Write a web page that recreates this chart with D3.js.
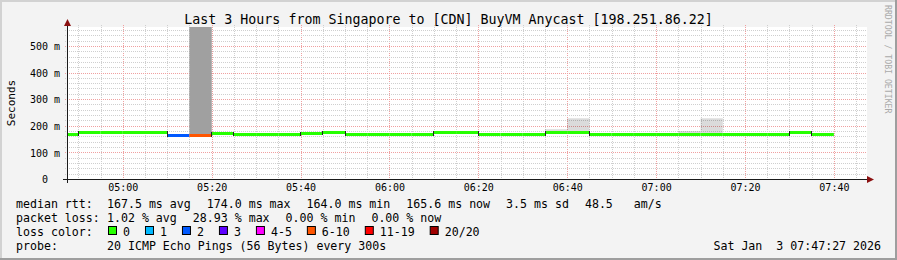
<!DOCTYPE html>
<html>
<head>
<meta charset="utf-8">
<script src="https://cdn.jsdelivr.net/npm/d3@7"></script>
<style>
    html, body { margin: 0; padding: 0; background: #f3f3f3; }
    svg { display: block; }
    text { font-family: "DejaVu Sans Mono", monospace; white-space: pre; }
</style>
</head>
<body>
<svg id="chart" width="897" height="260"></svg>
<script>
// ---- chart data ----
const title = 'Last 3 Hours from Singapore to [CDN] BuyVM Anycast [198.251.86.22]';
const rangeStart = '2026-01-03T04:47:27Z';
const rangeEnd = '2026-01-03T07:47:27Z';
const firstStep = '2026-01-03T04:45:00Z';
const stepSeconds = 300;

// median rtt per 5 minute step (ms), from 04:45 to 07:35
const medianMs = [
    169.0, 174.0, 173.8, 173.6, 173.9, 164.0, 165.2, 169.3, 166.1, 166.0,
    165.8, 169.1, 173.5, 166.2, 165.9, 166.0, 166.3, 173.4, 173.2, 166.4,
    166.0, 165.9, 173.6, 173.1, 166.3, 166.1, 165.8, 166.2, 166.0, 166.4,
    165.9, 166.1, 166.0, 173.3, 165.6
];
// lost pings out of 20 per step
const lossCount = [
    0, 0, 0, 0, 0, 2, 6, 0, 0, 0,
    0, 0, 0, 0, 0, 0, 0, 0, 0, 0,
    0, 0, 0, 0, 0, 0, 0, 0, 0, 0,
    0, 0, 0, 0, 0
];
// highest ping of the step (light smoke), null = hidden under the line
const smokeMaxMs = [
    null, null, null, null, null, null, 600, null, null, null,
    null, null, null, null, null, null, null, null, null, null,
    null, null, 187, 228, null, null, null, null, 180, 228,
    null, null, null, null, null
];
// dense part of the smoke (dark band)
const smokeDenseMs = [
    null, null, null, null, null, null, 600, null, null, null,
    null, null, null, null, null, null, null, null, null, null,
    null, null, null, null, null, null, null, null, null, null,
    null, null, null, null, null
];

const yMax = 571;
const yTicks = [0, 100, 200, 300, 400, 500];

const lossLabels = ['0', '1', '2', '3', '4-5', '6-10', '11-19', '20/20'];
const lossLimits = [0, 1, 2, 3, 5, 10, 19, 20];
const lossColors = ['#26ff00', '#00b8ff', '#0059ff', '#5e00ff', '#ff00ff', '#ff5500', '#ff0000', '#a00000'];

const rttStats = ['167.5 ms avg', '174.0 ms max', '164.0 ms min', '165.6 ms now', '3.5 ms sd', '48.5   am/s'];
const lossStats = ['1.02 % avg', '28.93 % max', '0.00 % min', '0.00 % now'];
const probeText = '20 ICMP Echo Pings (56 Bytes) every 300s';
const stamp = 'Sat Jan  3 07:47:27 2026';

// ---- layout ----
const W = 897, H = 260;
const pLeft = 67, pRight = 867, pTop = 27, pBottom = 179;

const svg = d3.select('#chart');

// background + 3d frame
svg.append('rect').attr('width', W).attr('height', H).attr('fill', '#f3f3f3');
svg.append('rect').attr('x', 0).attr('y', 0).attr('width', W).attr('height', 2).attr('fill', '#d2d2d2');
svg.append('rect').attr('x', 0).attr('y', 0).attr('width', 2).attr('height', H).attr('fill', '#d2d2d2');
svg.append('rect').attr('x', 0).attr('y', H - 2).attr('width', W).attr('height', 2).attr('fill', '#9e9e9e');
svg.append('rect').attr('x', W - 2).attr('y', 0).attr('width', 2).attr('height', H).attr('fill', '#9e9e9e');

// canvas
svg.append('rect')
    .attr('x', pLeft).attr('y', pTop)
    .attr('width', pRight - pLeft).attr('height', pBottom - pTop)
    .attr('fill', '#ffffff');

const x = d3.scaleUtc().domain([new Date(rangeStart), new Date(rangeEnd)]).range([pLeft, pRight]);
const y = d3.scaleLinear().domain([0, yMax]).range([pBottom, pTop]);

const crisp = v => Math.round(v) + 0.5;

// grid
const grid = svg.append('g');
const minorTimes = x.ticks(d3.utcMinute.every(5));
minorTimes.forEach(t => {
    const major = t.getUTCMinutes() % 20 === 0;
    grid.append('line')
        .attr('x1', crisp(x(t))).attr('x2', crisp(x(t)))
        .attr('y1', pTop - 2).attr('y2', pBottom + 2)
        .attr('stroke', major ? '#f0a0a0' : '#cfcfcf')
        .attr('stroke-dasharray', '1,1');
});
d3.range(20, yMax, 20).forEach(v => {
    const major = v % 100 === 0;
    grid.append('line')
        .attr('x1', pLeft - 2).attr('x2', pRight)
        .attr('y1', crisp(y(v))).attr('y2', crisp(y(v)))
        .attr('stroke', major ? '#f0a0a0' : '#cfcfcf')
        .attr('stroke-dasharray', '1,1');
});

// steps
const t0 = new Date(firstStep).getTime();
const steps = medianMs.map((m, i) => ({
    start: new Date(t0 + i * stepSeconds * 1000),
    end: new Date(t0 + (i + 1) * stepSeconds * 1000),
    median: m,
    loss: lossCount[i],
    smokeMax: smokeMaxMs[i],
    smokeDense: smokeDenseMs[i]
}));
const sx = d => Math.max(pLeft, x(d.start));
const ex = d => Math.min(pRight, x(d.end));
const clipY = v => Math.max(pTop, y(v));

// smoke
svg.append('g').selectAll('rect')
    .data(steps.filter(d => d.smokeMax !== null))
    .join('rect')
    .attr('x', d => sx(d)).attr('width', d => ex(d) - sx(d))
    .attr('y', d => clipY(d.smokeMax))
    .attr('height', d => y(d.median) - clipY(d.smokeMax))
    .attr('fill', 'rgba(0,0,0,0.14)');
svg.append('g').selectAll('rect')
    .data(steps.filter(d => d.smokeDense !== null))
    .join('rect')
    .attr('x', d => sx(d)).attr('width', d => ex(d) - sx(d))
    .attr('y', d => clipY(d.smokeDense))
    .attr('height', d => y(d.median) - clipY(d.smokeDense))
    .attr('fill', '#a0a0a0');

// median line, coloured by loss
const bucketOf = n => lossLimits.findIndex(l => n <= l);
const lineY = v => Math.floor(y(v)) + 0.5;
svg.append('g').selectAll('line')
    .data(steps)
    .join('line')
    .attr('x1', d => sx(d)).attr('x2', d => ex(d))
    .attr('y1', d => lineY(d.median)).attr('y2', d => lineY(d.median))
    .attr('stroke', d => lossColors[bucketOf(d.loss)])
    .attr('stroke-width', 3);

// small dark marks where the median changes
const changes = steps
    .map((d, i) => ({ d, p: steps[i - 1] }))
    .filter(o => o.p && lineY(o.d.median) !== lineY(o.p.median));
svg.append('g').selectAll('line')
    .data(changes)
    .join('line')
    .attr('x1', o => Math.floor(x(o.d.start)) + 0.5).attr('x2', o => Math.floor(x(o.d.start)) + 0.5)
    .attr('y1', o => Math.min(lineY(o.p.median), lineY(o.d.median)) - 1.5)
    .attr('y2', o => Math.max(lineY(o.p.median), lineY(o.d.median)) + 1.5)
    .attr('stroke', '#222')
    .attr('stroke-width', 1);

// axes
const xAxis = svg.append('g')
    .attr('transform', `translate(0,${pBottom})`)
    .call(d3.axisBottom(x)
        .ticks(d3.utcMinute.every(20))
        .tickFormat(d3.utcFormat('%H:%M'))
        .tickSize(0)
        .tickPadding(5));
xAxis.select('.domain').remove();
xAxis.selectAll('text')
    .attr('font-size', '10px').attr('fill', '#000')
    .style('font-family', '"DejaVu Sans Mono", monospace');

const yAxis = svg.append('g')
    .attr('transform', `translate(${pLeft},0)`)
    .call(d3.axisLeft(y)
        .tickValues(yTicks)
        .tickFormat(d => d === 0 ? '0  ' : d + ' m')
        .tickSize(0)
        .tickPadding(7));
yAxis.select('.domain').remove();
yAxis.selectAll('text')
    .attr('font-size', '10px').attr('fill', '#000').attr('dy', '0.38em')
    .style('font-family', '"DejaVu Sans Mono", monospace');

// axis lines and arrows
svg.append('line')
    .attr('x1', pLeft - 4).attr('x2', pRight + 1)
    .attr('y1', pBottom + 0.5).attr('y2', pBottom + 0.5)
    .attr('stroke', '#1a1a1a');
svg.append('line')
    .attr('x1', pLeft + 0.5).attr('x2', pLeft + 0.5)
    .attr('y1', pTop - 2).attr('y2', pBottom + 4)
    .attr('stroke', '#1a1a1a');
svg.append('path')
    .attr('d', `M${pLeft - 3},${pTop - 1}L${pLeft + 0.5},${pTop - 8}L${pLeft + 4},${pTop - 1}Z`)
    .attr('fill', '#8b1010');
svg.append('path')
    .attr('d', `M${pRight},${pBottom - 3}L${pRight + 7},${pBottom + 0.5}L${pRight},${pBottom + 4}Z`)
    .attr('fill', '#8b1010');

// titles
svg.append('text')
    .attr('x', 448.5).attr('y', 24)
    .attr('text-anchor', 'middle')
    .attr('font-size', '13.3px')
    .text(title);
svg.append('text')
    .attr('transform', `translate(15,${(pTop + pBottom) / 2}) rotate(-90)`)
    .attr('text-anchor', 'middle')
    .attr('font-size', '11px')
    .text('Seconds');
svg.append('text')
    .attr('transform', 'translate(885,5) rotate(90)')
    .attr('font-size', '8.2px')
    .attr('fill', '#aaaaaa')
    .text('RRDTOOL / TOBI OETIKER');

// legend
const legend = svg.append('g').attr('font-size', '11.6px').attr('fill', '#000');
const probe = legend.append('text').text('MMMMMMMMMM');
const cw = probe.node().getComputedTextLength() / 10;
probe.remove();

const rowY = [208, 222, 236, 250];
const itemGap = 16;

function statRow(label, items, yy) {
    legend.append('text').attr('x', 16).attr('y', yy).text(label);
    let xx = 107;
    items.forEach(s => {
        legend.append('text').attr('x', xx).attr('y', yy).text(s);
        xx += s.length * cw + itemGap;
    });
}
statRow('median rtt:', rttStats, rowY[0]);
statRow('packet loss:', lossStats, rowY[1]);

legend.append('text').attr('x', 16).attr('y', rowY[2]).text('loss color:');
let lx = 108;
lossLabels.forEach((lab, i) => {
    legend.append('rect')
        .attr('x', lx + 0.5).attr('y', rowY[2] - 9.5)
        .attr('width', 8).attr('height', 8)
        .attr('fill', lossColors[i]).attr('stroke', '#000');
    legend.append('text').attr('x', lx + 15).attr('y', rowY[2]).text(lab);
    lx += 15 + lab.length * cw + 15;
});

legend.append('text').attr('x', 16).attr('y', rowY[3]).text('probe:');
legend.append('text').attr('x', 107).attr('y', rowY[3]).text(probeText);
legend.append('text').attr('x', 881).attr('y', rowY[3]).attr('text-anchor', 'end').text(stamp);
</script>
</body>
</html>
